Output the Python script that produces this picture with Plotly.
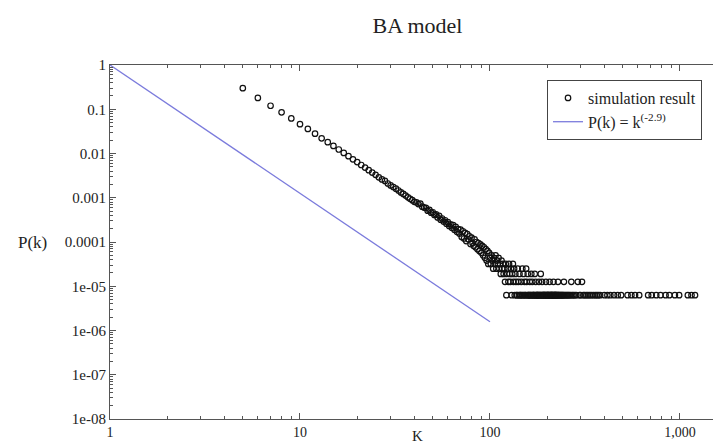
import plotly.graph_objects as go

# ---- data ----
head_k = [5, 6, 7, 8, 9, 10, 11, 12, 13, 14, 15, 16, 17, 18, 19, 20, 21, 22, 23, 24,
          25, 26, 27, 28, 29, 30, 31, 32, 33, 34, 35, 36, 37, 38, 39, 40]
head_p = [0.30, 0.18, 0.12, 0.085, 0.062, 0.046, 0.036, 0.028, 0.022, 0.018,
          0.0148, 0.0123, 0.0103, 0.0087, 0.0074, 0.0064, 0.0055, 0.0048, 0.0042, 0.0037,
          0.0033, 0.0029, 0.0026, 0.0024, 0.0021, 0.0019, 0.00175, 0.0016, 0.00146, 0.00132,
          0.00122, 0.00112, 0.00102, 0.00095, 0.00088, 0.00081]

mid_k = [41, 42, 43, 44, 45, 46, 47, 48, 49, 50, 51, 52, 53, 54, 55, 56, 57, 58, 59, 60,
         61, 62, 63, 64, 65, 66, 67, 68, 69, 70, 71, 72, 73, 74, 75, 76, 77, 78, 79, 80,
         81, 82, 83, 84, 85, 86, 87, 88, 89, 90, 91, 92, 93, 94, 95, 96, 97, 98, 99, 100,
         101, 102, 103, 104, 105, 106, 107, 108, 109, 110, 111, 112, 113, 114, 115, 116]
mid_p = [7.9e-4, 7.2e-4, 7.4e-4, 6.3e-4, 6.0e-4, 5.9e-4, 5.1e-4, 5.3e-4, 4.6e-4, 4.7e-4,
         4.1e-4, 4.2e-4, 3.6e-4, 3.9e-4, 3.2e-4, 3.4e-4, 2.9e-4, 3.1e-4, 2.6e-4, 2.8e-4,
         2.3e-4, 2.5e-4, 2.1e-4, 2.4e-4, 1.9e-4, 2.2e-4, 1.7e-4, 1.95e-4, 1.55e-4, 1.9e-4,
         1.3e-4, 1.75e-4, 1.2e-4, 1.6e-4, 1.05e-4, 1.5e-4, 1.15e-4, 1.35e-4, 9.0e-5, 1.25e-4,
         9.5e-5, 8.2e-5, 1.15e-4, 7.6e-5, 1.0e-4, 6.9e-5, 9.5e-5, 6.3e-5, 8.8e-5, 5.7e-5,
         8.2e-5, 5.0e-5, 7.6e-5, 4.4e-5, 6.9e-5, 3.8e-5, 6.3e-5, 3.2e-5, 5.7e-5, 4.4e-5,
         3.2e-5, 5.0e-5, 3.8e-5, 2.5e-5, 4.4e-5, 3.2e-5, 5.0e-5, 2.5e-5, 3.8e-5, 3.2e-5,
         4.4e-5, 2.5e-5, 3.2e-5, 1.9e-5, 3.8e-5, 2.5e-5]

# tail: degrees whose probability sits on the discrete count levels
lvl5_p = 3.2e-5
lvl5_k = [117, 121, 126, 132]
lvl4_p = 2.5e-5
lvl4_k = [119, 124, 129, 134, 140, 148, 155]
lvl3_p = 1.9e-5
lvl3_k = [118, 123, 127, 131, 136, 143, 150, 158, 165, 172, 185]
lvl2_p = 1.26e-5
lvl2_k = [120, 125, 128, 133, 137, 141, 146, 152, 156, 162, 167, 174, 181, 188, 197,
          206, 216, 228, 245, 268, 290, 305]
lvl1_p = 6.3e-6
lvl1_k = [122, 130, 135, 138, 139, 142, 144, 145, 147, 149, 151, 153, 154, 157, 159,
          160, 161, 163, 164, 166, 168, 169, 170, 171, 173, 175, 176, 177, 178, 179,
          180, 182, 183, 184, 186, 187, 189, 190, 191, 192, 193, 194, 195, 196, 198,
          199, 200, 201, 202, 203, 204, 205, 207, 208, 209, 210, 211, 212, 213, 214,
          215, 217, 218, 219, 220, 221, 222, 223, 224, 226, 227, 229, 230, 232, 234,
          236, 238, 240, 242, 244, 247, 250, 253, 256, 259, 262, 266, 271, 275, 280,
          285, 296, 300, 310, 315, 322, 328, 335, 342, 350, 358, 365, 372, 380, 400,
          415, 430, 450, 470, 490, 530, 555, 580, 610, 680, 710, 750, 790, 840, 880,
          940, 990, 1100, 1150, 1200, 1620]

# fitted power law line P(k) = k^(-2.9), drawn from k = 1 to 100
line_k = [1, 10, 100]
line_p = [1.0, 1.26e-3, 1.58e-6]

y_tick_vals = [1, 0.1, 0.01, 0.001, 0.0001, 1e-5, 1e-6, 1e-7, 1e-8]
y_tick_text = ["1", "0.1", "0.01", "0.001", "0.0001", "1e-05", "1e-06", "1e-07", "1e-08"]

# ---- assemble ----
sim_k = head_k + mid_k + lvl5_k + lvl4_k + lvl3_k + lvl2_k + lvl1_k
sim_p = (head_p + mid_p + [lvl5_p] * len(lvl5_k) + [lvl4_p] * len(lvl4_k)
         + [lvl3_p] * len(lvl3_k) + [lvl2_p] * len(lvl2_k) + [lvl1_p] * len(lvl1_k))

SERIF = "Liberation Serif, Times New Roman, serif"
FRAME = "#555555"
TXT = "#222222"

fig = go.Figure()
fig.add_trace(go.Scatter(
    x=sim_k, y=sim_p, mode="markers", name="simulation result",
    marker=dict(symbol="circle-open", size=5.5, color="#111111", line=dict(width=1.2)),
))
fig.add_trace(go.Scatter(
    x=line_k, y=line_p, mode="lines", name="P(k) = k<sup>(-2.9)</sup>",
    line=dict(color="#7b7bdc", width=1.3),
))

fig.update_layout(
    width=721, height=443,
    margin=dict(l=102, r=4, t=57, b=32),
    paper_bgcolor="white", plot_bgcolor="white",
    font=dict(family=SERIF, size=15, color=TXT),
    title=dict(text="BA model", x=0.5, xref="paper", xanchor="center",
               yref="container", y=1 - 17 / 443, yanchor="middle",
               font=dict(family=SERIF, size=22, color=TXT)),
    showlegend=True,
    legend=dict(x=0.7106, y=0.9576, xanchor="left", yanchor="top",
                bgcolor="white", bordercolor="#444444", borderwidth=1,
                font=dict(family=SERIF, size=16, color=TXT),
                itemwidth=30, tracegroupgap=0),
)

fig.update_xaxes(
    type="log", range=[0, 3.237],
    showline=True, linecolor=FRAME, linewidth=1, mirror="allticks",
    ticks="inside", ticklen=6, tickcolor=FRAME, dtick=1, tickformat=",",
    showgrid=False, zeroline=False,
    minor=dict(ticks="inside", ticklen=3, tickcolor=FRAME, showgrid=False),
    tickfont=dict(family=SERIF, size=14, color=TXT),
)
fig.update_yaxes(
    type="log", range=[-8, 0],
    showline=True, linecolor=FRAME, linewidth=1, mirror="allticks",
    ticks="inside", ticklen=6, tickcolor=FRAME,
    tickmode="array", tickvals=y_tick_vals, ticktext=y_tick_text,
    showgrid=False, zeroline=False,
    minor=dict(ticks="inside", ticklen=3, tickcolor=FRAME, dtick="D1", showgrid=False),
    tickfont=dict(family=SERIF, size=15, color=TXT),
)

fig.add_annotation(text="P(k)", xref="paper", x=-0.126, xanchor="center",
                   yref="y", y=-4, yanchor="middle", showarrow=False,
                   font=dict(family=SERIF, size=17, color=TXT))
fig.add_annotation(text="K", xref="paper", x=0.5, xanchor="center",
                   yref="paper", y=-0.048, yanchor="middle", showarrow=False,
                   font=dict(family=SERIF, size=15, color=TXT))

fig.write_html("out.html")
